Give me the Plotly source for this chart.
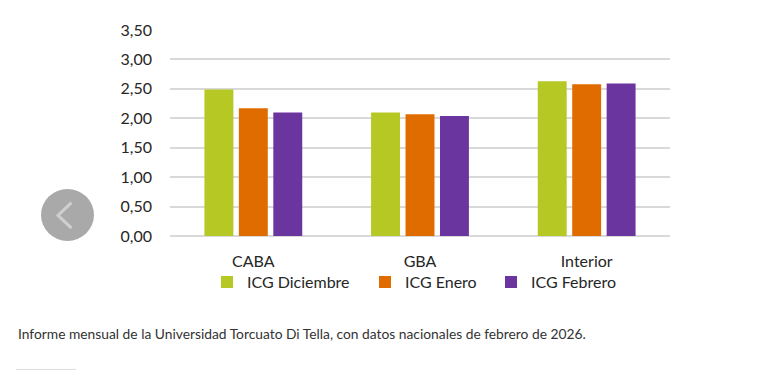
import plotly.graph_objects as go

categories = ["CABA", "GBA", "Interior"]
icg_diciembre = [2.49, 2.10, 2.63]
icg_enero = [2.17, 2.07, 2.58]
icg_febrero = [2.10, 2.04, 2.59]
series_names = ["ICG Diciembre", "ICG Enero", "ICG Febrero"]
tick_values = [0, 0.5, 1, 1.5, 2, 2.5, 3, 3.5]
tick_labels = ["0,00", "0,50", "1,00", "1,50", "2,00", "2,50", "3,00", "3,50"]
caption = "Informe mensual de la Universidad Torcuato Di Tella, con datos nacionales de febrero de 2026."

colors = ["#b5c823", "#e06c00", "#6b35a0"]
font_chart = "Lato, 'Open Sans', sans-serif"

OFF = 8  # page body margin
W, H = 780 - 2 * OFF, 390 - 2 * OFF
# plot area in page coordinates: x 170..670, y 26..236
L = 170 - OFF
R = W - (670 - OFF)
T = 26 - OFF
B = H - (236 - OFF)
PW, PH = W - L - R, H - T - B


def px(x):
    return (x - OFF - L) / PW


def py(y):
    return (H - B - (y - OFF)) / PH


fig = go.Figure()
legend_ids = ["legend", "legend2", "legend3"]
for name, vals, col, lg in zip(series_names, [icg_diciembre, icg_enero, icg_febrero], colors, legend_ids):
    fig.add_trace(go.Bar(x=categories, y=vals, name=name, legend=lg,
                         marker=dict(color=col, line=dict(width=0))))

# legend text starts (page px): 251, 409, 535
legend_text_x = [251, 409, 535]
legend_common = dict(orientation="h", xanchor="left", yanchor="middle",
                     font=dict(size=16, color="#262626"), itemclick=False,
                     bgcolor="rgba(0,0,0,0)", itemwidth=30)
legends = {}
for lg, tx in zip(legend_ids, legend_text_x):
    legends[lg] = dict(legend_common, x=px(tx - 44), y=py(283))

fig.update_layout(
    width=W, height=H,
    margin=dict(l=L, r=R, t=T, b=B),
    paper_bgcolor="white", plot_bgcolor="white",
    barmode="group", bargap=0.38, bargroupgap=0.16,
    font=dict(family=font_chart, size=16, color="#262626"),
    showlegend=True,
    **legends,
    xaxis=dict(showgrid=False, showline=False, ticks="", tickfont=dict(size=16),
               ticklabelstandoff=14, fixedrange=True),
    yaxis=dict(range=[0, 3.5], tickvals=tick_values, ticktext=tick_labels,
               showgrid=True, gridcolor="#d9d9d9", gridwidth=1.5,
               zeroline=True, zerolinecolor="#d9d9d9", zerolinewidth=1.5,
               showline=False, ticks="", tickfont=dict(size=16), ticklabelstandoff=17,
               fixedrange=True),
)

# caption
fig.add_annotation(text=caption, xref="paper", yref="paper",
                   x=px(16), xanchor="left", y=py(335), yanchor="middle",
                   showarrow=False, font=dict(family="Lato, sans-serif", size=13.8, color="#333333"))

# decorative gray circle with chevron (page navigation button)
fig.add_shape(type="circle", xref="paper", yref="paper",
              x0=px(41), x1=px(94), y0=py(241), y1=py(188),
              fillcolor="#a9a9a9", line=dict(width=0), layer="above")
fig.add_shape(type="path", xref="paper", yref="paper",
              path=f"M {px(71.5)},{py(202)} L {px(58)},{py(215)} L {px(71.5)},{py(228)}",
              line=dict(color="#cfcfcf", width=3), layer="above")
# short rule under caption
fig.add_shape(type="line", xref="paper", yref="paper",
              x0=px(16), x1=px(76), y0=py(372), y1=py(372),
              line=dict(color="#dddddd", width=1))

fig.write_html("out.html")
